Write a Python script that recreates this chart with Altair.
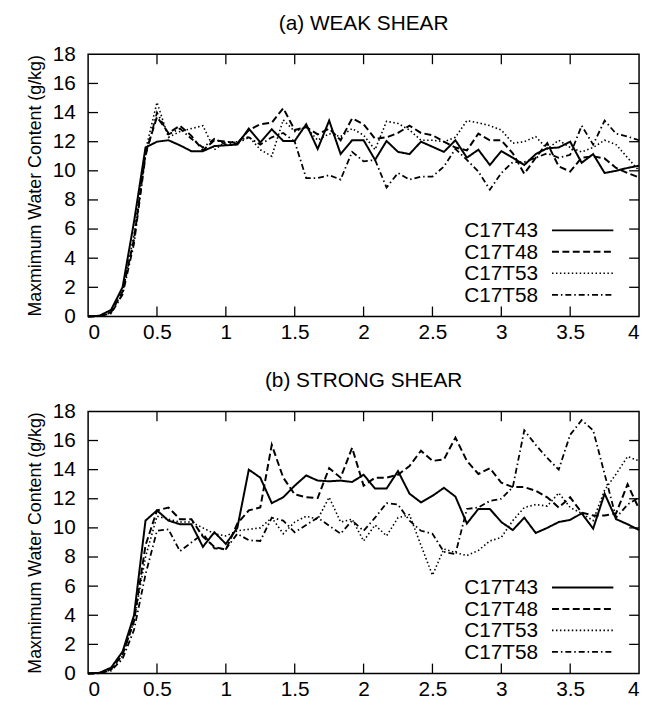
import altair as alt
import pandas as pd

SERIES = ["C17T43", "C17T48", "C17T53", "C17T58"]
TIME = [round(k / 12, 4) for k in range(49)]  # 5-minute output times (hours)

# (a) weak shear
WEAK_T43 = [0, 0.05, 0.45, 2.0, 6.5, 11.6, 12.0, 12.1, 11.75, 11.35, 11.35, 11.7, 11.75, 11.8, 12.9, 11.95,
            12.85, 12.05, 12.05, 13.2, 11.5, 13.45, 11.15, 12.1, 12.1, 10.75, 12.05, 11.3, 11.15, 12.0, 11.65,
            11.3, 12.1, 10.9, 11.45, 10.4, 11.35, 10.9, 10.4, 11.15, 11.55, 11.6, 12.0, 10.55, 11.15, 9.85,
            10.0, 10.2, 10.35]
WEAK_T48 = [0, 0.03, 0.3, 1.7, 5.3, 11.2, 13.7, 12.6, 13.1, 12.4, 11.4, 12.1, 12.0, 11.9, 12.8, 13.2,
            13.3, 14.3, 12.8, 13.0, 12.5, 12.9, 12.1, 13.6, 13.2, 12.2, 12.3, 12.6, 13.1, 12.6, 12.45,
            12.0, 11.6, 11.4, 12.55, 12.1, 12.1, 11.2, 9.8, 10.9, 11.9, 10.3, 9.95, 10.9, 11.0, 10.85,
            10.2, 9.85, 9.55]
WEAK_T53 = [0, 0.02, 0.25, 1.6, 5.6, 11.4, 14.7, 12.3, 12.7, 12.9, 13.1, 11.45, 12.0, 12.0, 12.35, 11.45,
            11.0, 13.5, 12.7, 13.0, 12.1, 12.55, 12.35, 12.9, 12.45, 11.45, 13.4, 13.25, 12.8, 12.1, 12.1,
            12.0, 12.3, 13.45, 13.3, 13.1, 12.8, 11.9, 12.0, 12.35, 11.5, 12.1, 11.6, 11.3, 11.6, 12.1,
            11.8, 10.9, 10.0]
WEAK_T58 = [0, 0.02, 0.2, 1.5, 5.0, 11.0, 14.0, 12.5, 12.9, 12.2, 11.6, 12.2, 11.8, 11.9, 12.3, 11.8,
            12.3, 12.6, 12.0, 9.5, 9.5, 9.7, 9.4, 11.3, 10.65, 10.75, 8.85, 9.85, 9.4, 9.6, 9.6,
            10.3, 11.5, 10.75, 9.95, 8.7, 9.85, 10.6, 10.6, 10.9, 11.2, 10.9, 11.1, 13.1, 11.8, 13.45,
            12.55, 12.35, 12.1]

# (b) strong shear
STRONG_T43 = [0, 0.05, 0.4, 1.5, 4.0, 10.5, 11.2, 10.5, 10.25, 10.25, 8.7, 9.7, 8.9, 10.0, 14.0, 13.45,
              11.7, 12.1, 12.9, 13.6, 13.25, 13.2, 13.25, 13.15, 13.65, 12.7, 12.7, 13.9, 12.35, 11.75, 12.2,
              12.75, 12.15, 10.3, 11.3, 11.3, 10.4, 9.85, 10.7, 9.65, 10.0, 10.4, 10.55, 11.0, 9.95, 12.35,
              10.6, 10.25, 9.85]
STRONG_T48 = [0, 0.03, 0.3, 1.3, 3.6, 8.8, 11.2, 11.4, 10.6, 10.6, 9.4, 8.7, 8.5, 10.3, 11.2, 11.4,
              15.7, 13.45, 12.3, 12.1, 12.05, 14.1, 13.45, 15.5, 12.9, 13.45, 13.45, 13.65, 14.25, 15.3, 14.6,
              14.7, 16.2, 14.6, 13.7, 14.1, 13.1, 12.8, 12.8, 12.55, 12.1, 11.4, 12.1, 11.05, 10.85, 10.85,
              11.0, 13.0, 11.3]
STRONG_T53 = [0, 0.02, 0.25, 1.2, 3.6, 8.0, 10.8, 10.6, 10.4, 10.4, 10.0, 9.6, 9.45, 9.8, 9.9, 10.0,
              10.7, 9.6, 10.4, 10.8, 10.6, 12.1, 10.4, 10.6, 9.1, 10.2, 9.45, 10.7, 10.9, 8.8, 6.75,
              8.55, 8.3, 8.1, 8.45, 9.1, 9.35, 10.5, 11.4, 11.6, 11.5, 12.4, 11.4, 11.0, 10.5, 12.6,
              13.7, 14.9, 14.6]
STRONG_T58 = [0, 0.02, 0.2, 1.0, 3.0, 6.8, 9.8, 9.9, 8.4, 9.0, 9.6, 8.6, 8.55, 9.6, 9.15, 9.1,
              10.7, 10.5, 9.7, 10.2, 10.7, 10.15, 9.6, 10.5, 9.8, 10.7, 11.7, 11.6, 10.5, 9.8, 9.6,
              8.35, 8.2, 11.3, 11.4, 11.85, 12.0, 12.8, 16.7, 15.7, 14.8, 14.0, 16.4, 17.4, 16.7, 13.7,
              10.7, 11.6, 12.1]

X_TICKS = [0, 0.5, 1, 1.5, 2, 2.5, 3, 3.5, 4]
Y_TICKS = [0, 2, 4, 6, 8, 10, 12, 14, 16, 18]

DASHES = {"C17T43": [1, 0], "C17T48": [7, 3.5], "C17T53": [1.5, 2.5], "C17T58": [6, 3, 1.5, 3]}
WIDTHS = {"C17T43": 2.0, "C17T48": 2.0, "C17T53": 1.6, "C17T58": 1.8}

FONT = "Liberation Sans"
W, H = 557, 265
TICK = 10

XS = alt.Scale(domain=[0, 4], nice=False, zero=False)
YS = alt.Scale(domain=[0, 18], nice=False)
X_AXIS = alt.Axis(values=X_TICKS, format="~g", ticks=False, domain=False, grid=False,
                  labelFontSize=21, labelFont=FONT, labelColor="black", labelPadding=5, title=None)
Y_AXIS = alt.Axis(values=Y_TICKS, ticks=False, domain=False, grid=False,
                  labelFontSize=21, labelFont=FONT, labelColor="black", labelPadding=13,
                  title="Maxmimum Water Content (g/kg)",
                  titleFont=FONT, titleFontSize=18, titleFontWeight="normal",
                  titleColor="black", titlePadding=8)


def xenc():
    return alt.X("time:Q", scale=XS, axis=X_AXIS)


def yenc():
    return alt.Y("val:Q", scale=YS, axis=Y_AXIS)


def panel(title, cols):
    rows = []
    for name, vals in zip(SERIES, cols):
        for t, v in zip(TIME, vals):
            rows.append({"time": t, "val": v, "series": name})
    df = pd.DataFrame(rows)

    layers = []
    for name in SERIES:
        layers.append(
            alt.Chart(df[df.series == name]).mark_line(
                color="black", strokeWidth=WIDTHS[name], strokeDash=DASHES[name]
            ).encode(x=xenc(), y=yenc())
        )

    xt = pd.DataFrame({"time": X_TICKS[1:-1]})
    yt = pd.DataFrame({"val": Y_TICKS[1:-1]})
    tick_style = dict(color="black", strokeWidth=1.3)
    layers.append(alt.Chart(xt).mark_rule(**tick_style).encode(
        x=xenc(), y=alt.value(H), y2=alt.value(H - TICK)))
    layers.append(alt.Chart(xt).mark_rule(**tick_style).encode(
        x=xenc(), y=alt.value(0), y2=alt.value(TICK)))
    layers.append(alt.Chart(yt).mark_rule(**tick_style).encode(
        y=yenc(), x=alt.value(0), x2=alt.value(TICK)))
    layers.append(alt.Chart(yt).mark_rule(**tick_style).encode(
        y=yenc(), x=alt.value(W), x2=alt.value(W - TICK)))

    # legend (gnuplot style: label then line sample)
    one = pd.DataFrame({"a": [0]})
    for i, name in enumerate(SERIES):
        base_y = 185 + i * 21.7
        layers.append(alt.Chart(one).mark_text(
            align="right", baseline="alphabetic", fontSize=21, font=FONT, color="black"
        ).encode(x=alt.value(455), y=alt.value(base_y), text=alt.value(name)))
        layers.append(alt.Chart(one).mark_rule(
            color="black", strokeWidth=WIDTHS[name], strokeDash=DASHES[name]
        ).encode(x=alt.value(469), x2=alt.value(531), y=alt.value(base_y - 7)))

    return alt.layer(*layers).properties(
        width=W, height=H,
        title=alt.TitleParams(title, fontSize=21, font=FONT, fontWeight="normal", color="black",
                              anchor="middle", offset=10),
    )


top = panel("(a) WEAK SHEAR", [WEAK_T43, WEAK_T48, WEAK_T53, WEAK_T58])
bottom = panel("(b) STRONG SHEAR", [STRONG_T43, STRONG_T48, STRONG_T53, STRONG_T58])

chart = alt.vconcat(top, bottom, spacing=26).configure_view(
    stroke="black", strokeWidth=1.5
).properties(padding={"left": 17, "top": 0, "right": 0, "bottom": 0}, background="white")

chart.save("out.html", embed_options={"renderer": "svg", "actions": False})
